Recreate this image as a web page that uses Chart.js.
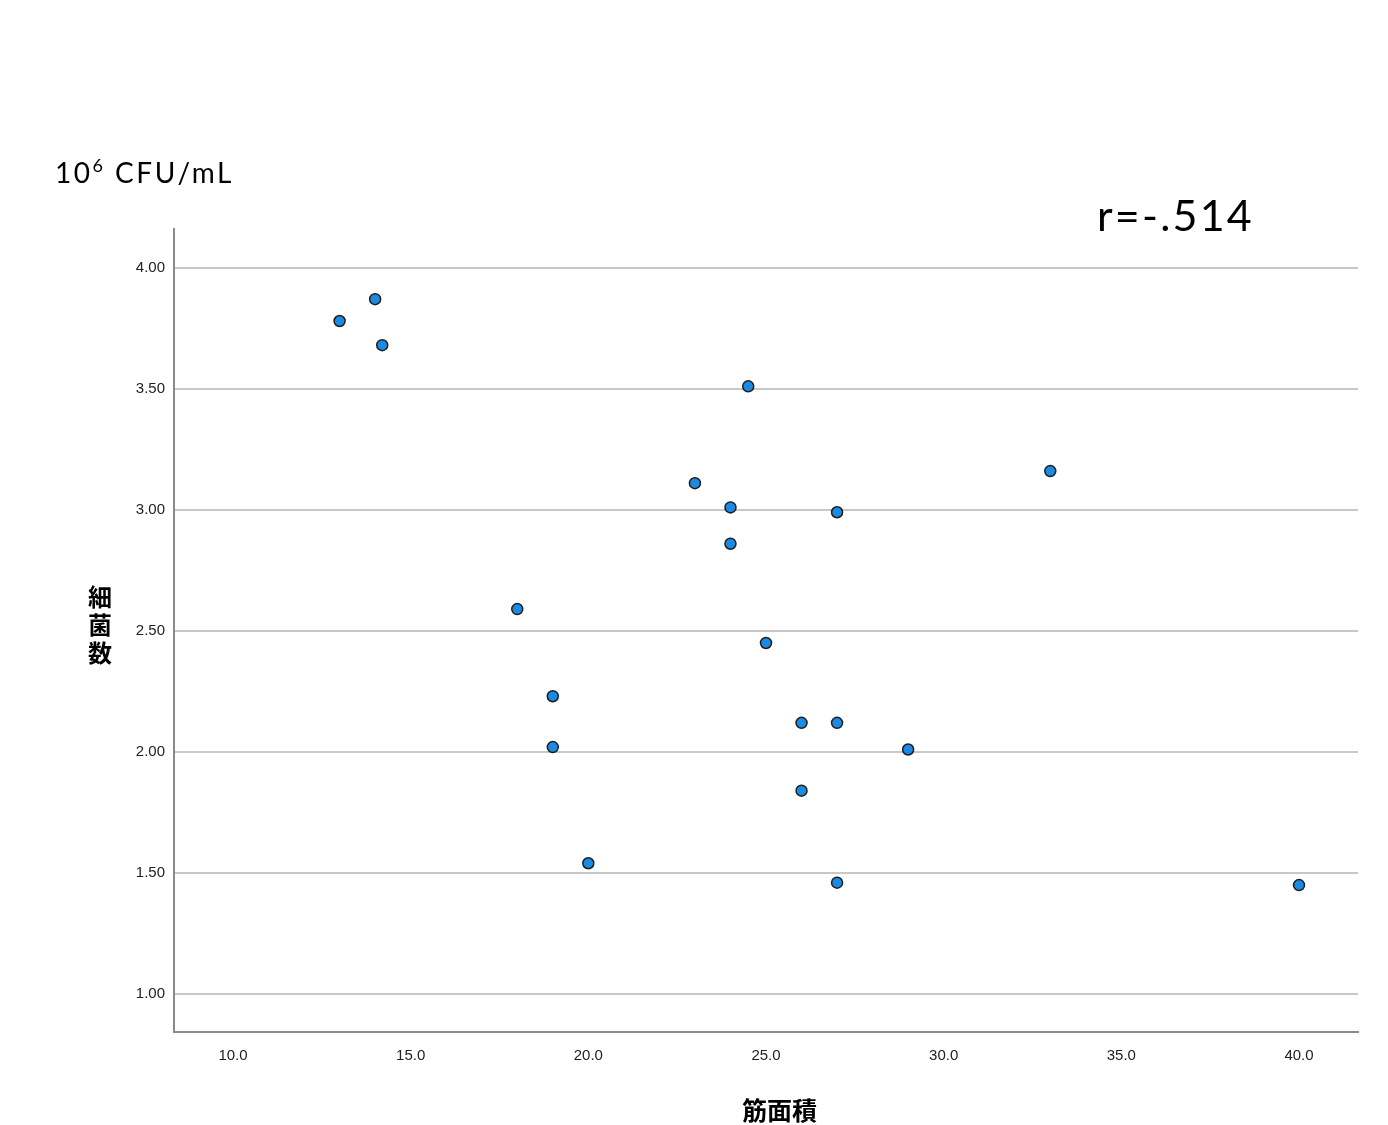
<!DOCTYPE html>
<html>
<head>
<meta charset="utf-8">
<script src="https://cdn.jsdelivr.net/npm/chart.js@4/dist/chart.umd.min.js"></script>
<style>
  html, body { margin: 0; padding: 0; background: #fff; }
  #wrap { position: relative; width: 1388px; height: 1125px; overflow: hidden; }
  canvas { position: absolute; left: 0; top: 0; }
  .lbl { position: absolute; color: #000; white-space: nowrap; }
  #unit { left: 55px; top: 155px; font: 28px Lato, "Open Sans", sans-serif; letter-spacing: 2.5px; }
  #unit sup { font-size: 18px; vertical-align: 0; position: relative; top: -11px; }
  #corr { left: 1097px; top: 189px; font: 43px Lato, "Open Sans", sans-serif; letter-spacing: 2.2px; }
  #ytitle { left: 86px; top: 582px; width: 28px; font: bold 24px "Noto Sans CJK JP", sans-serif; line-height: 28px; text-align: center; }
  #xtitle { left: 742px; top: 1091px; font: bold 25px "Noto Sans CJK JP", sans-serif; }
</style>
</head>
<body>
<div id="wrap">
  <canvas id="c" width="1388" height="1125"></canvas>
  <div class="lbl" id="unit">10<sup>6</sup> CFU/mL</div>
  <div class="lbl" id="corr">r=-.514</div>
  <div class="lbl" id="ytitle">細<br>菌<br>数</div>
  <div class="lbl" id="xtitle">筋面積</div>
</div>
<script>
// Muscle area (x) vs bacterial count (y)
const muscleArea = [13, 14, 14.2, 24.5, 23, 24, 24, 27, 33, 18, 25, 19, 19, 26, 27, 29, 26, 20, 27, 40];
const bacteriaCount = [3.78, 3.87, 3.68, 3.51, 3.11, 3.01, 2.86, 2.99, 3.16, 2.59, 2.45, 2.23, 2.02, 2.12, 2.12, 2.01, 1.84, 1.54, 1.46, 1.45];
const xTickValues = [10, 15, 20, 25, 30, 35, 40];
const yTickValues = [1, 1.5, 2, 2.5, 3, 3.5, 4];

const points = muscleArea.map((x, i) => ({ x: x, y: bacteriaCount[i] }));

new Chart(document.getElementById('c'), {
  type: 'scatter',
  data: {
    datasets: [{
      data: points,
      pointRadius: 5.5,
      pointHoverRadius: 5.5,
      pointBackgroundColor: '#1b8ae2',
      pointBorderColor: '#1e1e1e',
      pointBorderWidth: 1.5
    }]
  },
  options: {
    responsive: false,
    animation: false,
    events: [],
    layout: { padding: { left: 0, top: 229, right: 30, bottom: 0 } },
    plugins: { legend: { display: false }, tooltip: { enabled: false } },
    scales: {
      x: {
        type: 'linear',
        min: 8.34,
        max: 41.66,
        afterBuildTicks: s => { s.ticks = xTickValues.map(v => ({ value: v })); },
        afterFit: s => { s.height = 93; },
        grid: { display: false, drawTicks: false },
        border: { display: true, color: '#8a8a8a', width: 2 },
        ticks: {
          padding: 15,
          color: '#222',
          font: { family: 'Liberation Sans, Arial, sans-serif', size: 15 },
          callback: v => v.toFixed(1)
        }
      },
      y: {
        type: 'linear',
        min: 0.843,
        max: 4.16,
        afterBuildTicks: s => { s.ticks = yTickValues.map(v => ({ value: v })); },
        afterFit: s => { s.width = 174; },
        grid: { display: true, drawTicks: false, color: '#c8c8c8', lineWidth: 2 },
        border: { display: true, color: '#8a8a8a', width: 2 },
        ticks: {
          padding: 9,
          color: '#222',
          font: { family: 'Liberation Sans, Arial, sans-serif', size: 15 },
          callback: v => v.toFixed(2)
        }
      }
    }
  }
});
</script>
</body>
</html>
